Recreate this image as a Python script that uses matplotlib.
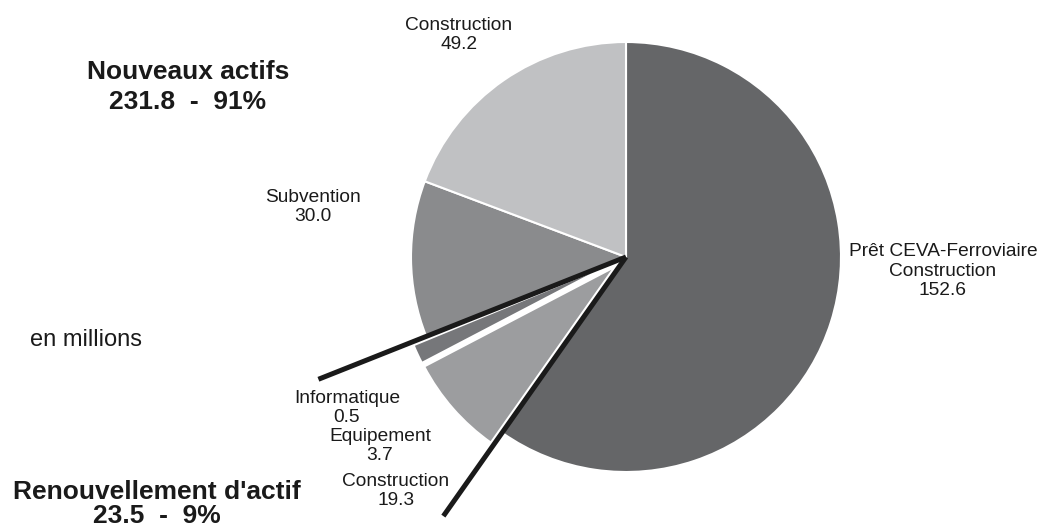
import matplotlib.pyplot as plt
import numpy as np

# Données (en millions)
labels = ['Prêt CEVA-Ferroviaire\nConstruction', 'Construction', 'Equipement',
          'Informatique', 'Subvention', 'Construction']
values = [152.6, 19.3, 3.7, 0.5, 30.0, 49.2]
colors = ['#656668', '#9c9d9f', '#76777a', '#8a8b8d', '#8a8b8d', '#c0c1c3']
renouvellement = [False, True, True, True, False, False]

plt.rcParams['font.family'] = ['Liberation Sans', 'DejaVu Sans']

fig = plt.figure(figsize=(10.43, 5.30), dpi=100)
ax = fig.add_axes([0, 0, 1, 1])

cx, cy, r = 626, 273, 215
explode = [15 if e else 0 for e in renouvellement]  # en unités de données
ax.pie(values, colors=colors, startangle=90, counterclock=False,
       center=(cx, cy), radius=r, explode=explode,
       wedgeprops=dict(edgecolor='white', linewidth=1.5), frame=True)
ax.set_xlim(0, 1043)
ax.set_ylim(0, 530)
ax.set_aspect('equal')
ax.axis('off')

# Traits noirs séparant le groupe "Renouvellement d'actif"
total = sum(values)
cum = np.cumsum(values)
for frac, length in [(cum[0] / total, 317), (cum[3] / total, 331)]:
    ang = np.deg2rad(90 - 360 * frac)
    ax.plot([cx, cx + length * np.cos(ang)], [cy, cy + length * np.sin(ang)],
            color='#1a1a1a', lw=3.6, solid_capstyle='butt', zorder=5)

fs = 13.8
txt = dict(ha='center', va='center', fontsize=fs, color='#1a1a1a', linespacing=1.2)
ax.text(943, 530 - 271, f"{labels[0]}\n{values[0]:.1f}", **txt)
ax.text(396, 530 - 491, f"{labels[1]}\n{values[1]:.1f}", **txt)
ax.text(380, 530 - 446, f"{labels[2]}\n{values[2]:.1f}", **txt)
ax.text(347, 530 - 408, f"{labels[3]}\n{values[3]:.1f}", **txt)
ax.text(313, 530 - 207, f"{labels[4]}\n{values[4]:.1f}", **txt)
ax.text(459, 530 - 35, f"{labels[5]}\n{values[5]:.1f}", **txt)

ax.text(188, 530 - 87, "Nouveaux actifs\n231.8  -  91%", ha='center', va='center',
        fontsize=19, fontweight='bold', color='#1a1a1a', linespacing=1.3)
ax.text(157, 530 - 504, "Renouvellement d'actif\n23.5  -  9%", ha='center', va='center',
        fontsize=19, fontweight='bold', color='#1a1a1a', linespacing=1.05)
ax.text(30, 530 - 340, "en millions", ha='left', va='center', fontsize=17, color='#1a1a1a')

fig.savefig('out.png', dpi=100)
